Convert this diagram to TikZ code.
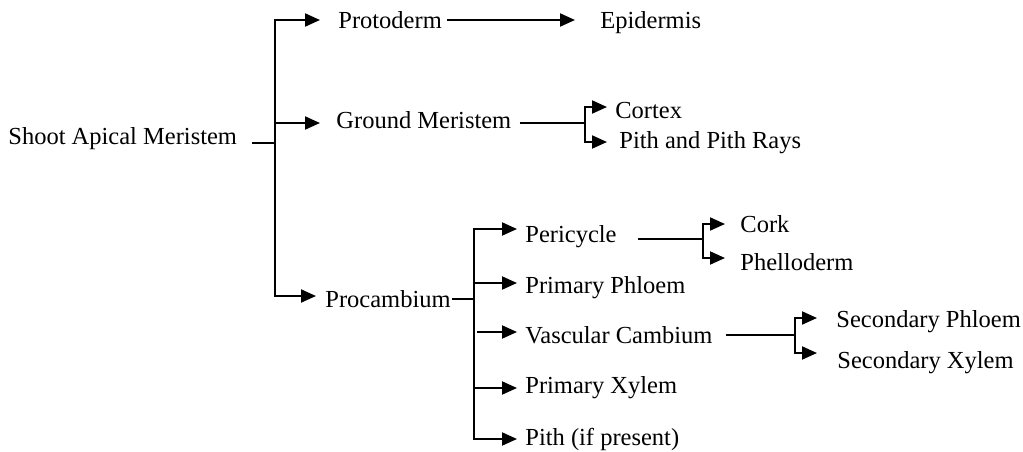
\documentclass[tikz,border=0pt]{standalone}
\usepackage{fontspec}
\setmainfont{Liberation Serif}
\usetikzlibrary{arrows.meta,calc}
\begin{document}
\begin{tikzpicture}[x=0.5pt,y=-0.5pt,
  lbl/.style={anchor=base west,inner sep=0pt,font=\fontsize{12.25}{14}\selectfont},
  br/.style={line width=1pt},
  ln/.style={line width=0.75pt},
  arr/.style={line width=1pt,-{Triangle[length=7.5pt,width=6.5pt]}}]
\useasboundingbox (0,0) rectangle (1023,451);
\node[lbl] (sam) at (8,144) {Shoot Apical Meristem};
\node[lbl] (proto) at (338,28) {Protoderm};
\node[lbl] (epi) at (600,28) {Epidermis};
\node[lbl] (gm) at (336,128) {Ground Meristem};
\node[lbl] (cortex) at (615,118) {Cortex};
\node[lbl] (pith1) at (619,148) {Pith and Pith Rays};
\node[lbl] (proc) at (325,307) {Procambium};
\node[lbl] (peri) at (525,242) {Pericycle};
\node[lbl] (pphl) at (525,293) {Primary Phloem};
\node[lbl] (vc) at (525,343) {Vascular Cambium};
\node[lbl] (pxy) at (525,393) {Primary Xylem};
\node[lbl] (pith2) at (525,445) {Pith (if present)};
\node[lbl] (cork) at (740,232) {Cork};
\node[lbl] (phell) at (740,270) {Phelloderm};
\node[lbl] (sphl) at (836,327) {Secondary Phloem};
\node[lbl] (sxy) at (837,368) {Secondary Xylem};
% shoot apical meristem
\coordinate (s0) at (275,143);
\draw[ln] ($(sam.base east)+(15,-1)$) -- (s0);
\draw[arr] (s0) |- ($(proto.base west)+(-18,-8)$);
\draw[arr] (s0) |- ($(gm.base west)+(-16,-5)$);
\draw[arr] (s0) |- ($(proc.base west)+(-9,-11)$);
% protoderm
\draw[arr] ($(proto.base east)+(5,-8)$) -- ($(epi.base west)+(-25,-8)$);
% ground meristem
\coordinate (g0) at (585,123);
\draw[ln] ($(gm.base east)+(8,-5)$) -- (g0);
\draw[arr] (g0) |- ($(cortex.base west)+(-8,-11)$);
\draw[arr] (g0) |- ($(pith1.base west)+(-12,-6)$);
% procambium
\coordinate (p0) at (474,299);
\draw[ln] ($(proc.base east)+(1,-8)$) -- (p0);
\draw[arr] (p0) |- ($(peri.base west)+(-8,-13)$);
\draw[arr] (p0) |- ($(pphl.base west)+(-8,-10)$);
\draw[arr] ($(p0)+(3,33)$) -- ($(vc.base west)+(-8,-11)$);
\draw[arr] (p0) |- ($(pxy.base west)+(-8,-5)$);
\draw[arr] (p0) |- ($(pith2.base west)+(-8,-6)$);
% pericycle
\coordinate (c0) at (703,239);
\draw[ln] ($(peri.base east)+(21,-3)$) -- (c0);
\draw[arr] (c0) |- ($(cork.base west)+(-15,-8)$);
\draw[arr] (c0) |- ($(phell.base west)+(-15,-12)$);
% vascular cambium
\coordinate (v0) at (795,335);
\draw[ln] ($(vc.base east)+(13,-8)$) -- (v0);
\draw[arr] (v0) |- ($(sphl.base west)+(-19,-9)$);
\draw[arr] (v0) |- ($(sxy.base west)+(-20,-15)$);
\end{tikzpicture}
\end{document}
